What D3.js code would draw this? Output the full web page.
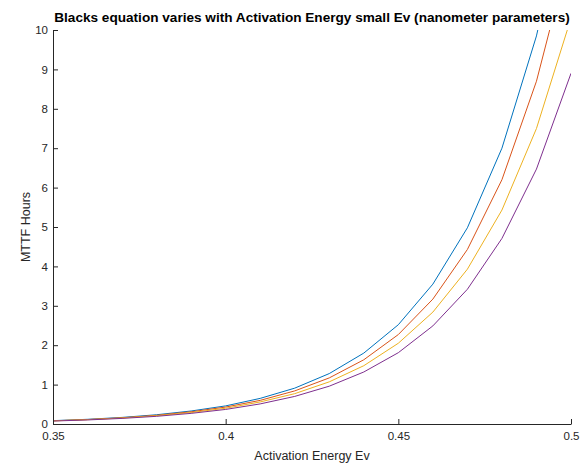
<!DOCTYPE html>
<html>
<head>
<meta charset="utf-8">
<script src="https://cdn.jsdelivr.net/npm/d3@7"></script>
<style>
  html, body { margin: 0; padding: 0; background: #fff; }
  svg { display: block; font-family: "Liberation Sans", Arial, Helvetica, sans-serif; }
</style>
</head>
<body>
<svg id="chart" width="587" height="466"></svg>
<script>
// Activation energy (eV) sample points
const activationEnergy = [0.35, 0.36, 0.37, 0.38, 0.39, 0.40, 0.41, 0.42, 0.43, 0.44, 0.45, 0.46, 0.47, 0.48, 0.49, 0.50];

// MTTF (hours) for each of the four parameter sets
const mttf1 = [0.085, 0.119, 0.167, 0.235, 0.33, 0.46, 0.65, 0.91, 1.28, 1.80, 2.52, 3.55, 4.98, 7.0, 9.85, 13.8];
const mttf2 = [0.081, 0.113, 0.158, 0.22, 0.31, 0.43, 0.60, 0.84, 1.17, 1.63, 2.27, 3.17, 4.43, 6.2, 8.7, 12.1];
const mttf3 = [0.079, 0.11, 0.152, 0.21, 0.29, 0.40, 0.56, 0.77, 1.07, 1.48, 2.05, 2.84, 3.93, 5.43, 7.5, 10.3];
const mttf4 = [0.075, 0.103, 0.142, 0.195, 0.27, 0.37, 0.51, 0.70, 0.96, 1.32, 1.81, 2.49, 3.42, 4.71, 6.47, 8.9];

const seriesList = [mttf1, mttf2, mttf3, mttf4];
const seriesColors = ["#0072BD", "#D95319", "#EDB120", "#7E2F8E"];

const xTicks = [0.35, 0.4, 0.45, 0.5];
const yTicks = [0, 1, 2, 3, 4, 5, 6, 7, 8, 9, 10];

const titleText = "Blacks equation varies with Activation Energy small Ev (nanometer parameters)";
const xLabel = "Activation Energy Ev";
const yLabel = "MTTF Hours";

const svg = d3.select("#chart");
const margin = { left: 53, right: 16, top: 30, bottom: 42 };
const W = 587, H = 466;
const innerW = W - margin.left - margin.right;
const innerH = H - margin.top - margin.bottom;

const x = d3.scaleLinear().domain([0.35, 0.5]).range([0, innerW]);
const y = d3.scaleLinear().domain([0, 10]).range([innerH, 0]);

const g = svg.append("g").attr("transform", `translate(${margin.left},${margin.top})`);

g.append("defs").append("clipPath").attr("id", "plotClip")
  .append("rect").attr("x", 0).attr("y", 0).attr("width", innerW).attr("height", innerH);

const axisColor = "#262626";

// lines
const line = d3.line()
  .x((d, i) => x(activationEnergy[i]))
  .y(d => y(d));

const plot = g.append("g").attr("clip-path", "url(#plotClip)");
seriesList.forEach((s, k) => {
  plot.append("path")
    .datum(s)
    .attr("fill", "none")
    .attr("stroke", seriesColors[k])
    .attr("stroke-width", 1)
    .attr("stroke-linejoin", "round")
    .attr("d", line);
});

// x axis (ticks point inward)
const xAxis = g.append("g").attr("transform", `translate(0,${innerH})`)
  .call(d3.axisBottom(x).tickValues(xTicks).tickSizeInner(-5).tickSizeOuter(0)
    .tickFormat(d => d3.format("")(+d.toFixed(2))));
xAxis.select(".domain").attr("stroke", axisColor);
xAxis.selectAll(".tick line").attr("stroke", axisColor);
xAxis.selectAll(".tick text").attr("fill", axisColor).attr("font-size", 11.5).attr("y", 8);

// y axis
const yAxis = g.append("g")
  .call(d3.axisLeft(y).tickValues(yTicks).tickSizeInner(-5).tickSizeOuter(0));
yAxis.select(".domain").attr("stroke", axisColor);
yAxis.selectAll(".tick line").attr("stroke", axisColor);
yAxis.selectAll(".tick text").attr("fill", axisColor).attr("font-size", 11.5).attr("x", -5);

// title
svg.append("text")
  .attr("x", margin.left + innerW / 2)
  .attr("y", 22)
  .attr("text-anchor", "middle")
  .attr("font-size", 13.6)
  .attr("font-weight", "bold")
  .attr("fill", "#000")
  .text(titleText);

// axis labels
svg.append("text")
  .attr("x", margin.left + innerW / 2)
  .attr("y", 460)
  .attr("text-anchor", "middle")
  .attr("font-size", 12.5)
  .attr("fill", axisColor)
  .text(xLabel);

svg.append("text")
  .attr("transform", `translate(30,${margin.top + innerH / 2}) rotate(-90)`)
  .attr("text-anchor", "middle")
  .attr("font-size", 12.5)
  .attr("fill", axisColor)
  .text(yLabel);
</script>
</body>
</html>
